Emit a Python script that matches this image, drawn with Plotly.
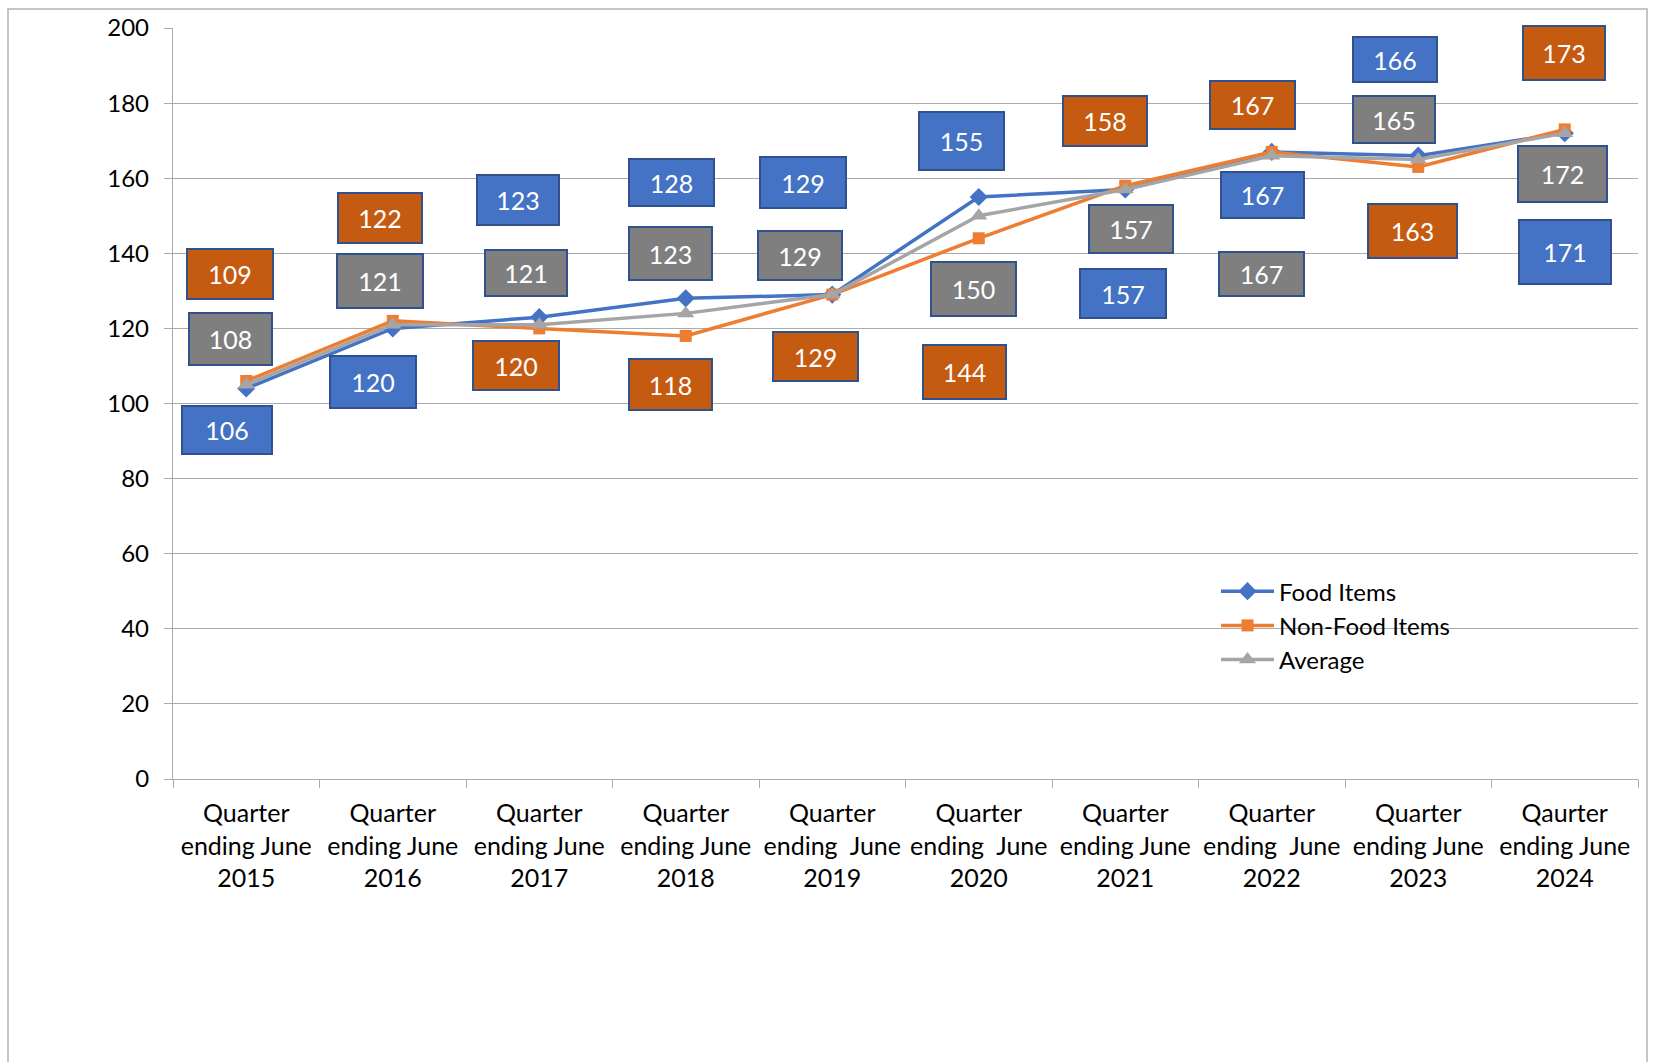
import plotly.graph_objects as go

# ---------------- data ----------------
quarters = [
    "Quarter<br>ending June<br>2015",
    "Quarter<br>ending June<br>2016",
    "Quarter<br>ending June<br>2017",
    "Quarter<br>ending June<br>2018",
    "Quarter<br>ending\u00a0 June<br>2019",
    "Quarter<br>ending\u00a0 June<br>2020",
    "Quarter<br>ending June<br>2021",
    "Quarter<br>ending\u00a0 June<br>2022",
    "Quarter<br>ending June<br>2023",
    "Qaurter<br>ending June<br>2024",
]
food_values = [104, 120, 123, 128, 129, 155, 157, 167, 166, 172]
nonfood_values = [106, 122, 120, 118, 129, 144, 158, 167, 163, 173]
average_values = [105, 121, 121, 124, 129, 150, 157, 166, 165, 172]

food_labels = [106, 120, 123, 128, 129, 155, 157, 167, 166, 171]
nonfood_labels = [109, 122, 120, 118, 129, 144, 158, 167, 163, 173]
average_labels = [108, 121, 121, 123, 129, 150, 157, 167, 165, 172]

series_names = ["Food Items", "Non-Food Items", "Average"]

# ---------------- styles ----------------
FONT = "Lato, Carlito, Calibri, 'Noto Sans', sans-serif"
line_colors = ["#4472C4", "#ED7D31", "#A5A5A5"]
label_fills = ["#4472C4", "#C55A11", "#7F7F7F"]
marker_symbols = ["diamond", "square", "triangle-up"]
marker_sizes = [14, 12, 15]

# label box placement (pixel offsets from the point) and box sizes
food_offsets = [(-19, -42), (-20, -54), (-21, 117), (-14, 116), (-29, 112),
                (-17, 56), (-2, -104), (-9, -43), (-23, 96), (0, -119)]
nonfood_offsets = [(-16, 107), (-13, 103), (-23, -37), (-15, -49), (-17, -62),
                   (-14, -134), (-20, 65), (-19, 47), (-6, -64), (-1, 76)]
average_offsets = [(-16, 46), (-13, 44), (-13, 52), (-15, 60), (-32, 39),
                   (-5, -73), (6, -40), (-10, -118), (-24, 40), (-2, -41)]
food_sizes = [(92, 50), (88, 54), (84, 52), (87, 49), (88, 53),
              (87, 60), (88, 51), (85, 48), (86, 47), (94, 66)]
nonfood_sizes = [(88, 52), (86, 52), (88, 51), (85, 53), (87, 51),
                 (85, 56), (86, 52), (87, 50), (91, 56), (84, 56)]
average_sizes = [(85, 54), (88, 56), (84, 48), (85, 55), (86, 51),
                 (87, 56), (86, 50), (87, 46), (84, 49), (91, 58)]

GRID = "#ABABAB"

fig = go.Figure()
all_values = [food_values, nonfood_values, average_values]
for i, vals in enumerate(all_values):
    fig.add_trace(go.Scatter(
        x=quarters, y=vals, name=series_names[i], mode="lines+markers",
        line=dict(color=line_colors[i], width=3.5),
        marker=dict(symbol=marker_symbols[i], size=marker_sizes[i], color=line_colors[i]),
        legendgroup=series_names[i],
        cliponaxis=False,
    ))

annotations = []
groups = [
    (food_values, food_labels, food_offsets, food_sizes, label_fills[0]),
    (nonfood_values, nonfood_labels, nonfood_offsets, nonfood_sizes, label_fills[1]),
    (average_values, average_labels, average_offsets, average_sizes, label_fills[2]),
]
for vals, labels, offs, sizes, fill in groups:
    for j, q in enumerate(quarters):
        dx, dy = offs[j]
        w, h = sizes[j]
        annotations.append(dict(
            x=q, y=vals[j], xref="x", yref="y", showarrow=False,
            xshift=dx, yshift=dy, text=str(labels[j]),
            font=dict(family=FONT, size=25, color="white"),
            bgcolor=fill, bordercolor="#2F528F", borderwidth=2, borderpad=0,
            width=w - 4, height=h - 4, align="center", valign="middle",
        ))

# outer chart-area frame
PLOT_L, PLOT_R, PLOT_T, PLOT_B = 173, 1638, 24, 779
pw, ph = PLOT_R - PLOT_L, PLOT_B - PLOT_T
def px_x(p):
    return (p - PLOT_L) / pw
def px_y(p):
    return (PLOT_B - p) / ph

shapes = [dict(type="rect", xref="paper", yref="paper",
               x0=px_x(8), x1=px_x(1647), y0=px_y(1100), y1=px_y(5),
               line=dict(color="#B4B4B4", width=1.5), fillcolor="rgba(0,0,0,0)",
               layer="below")]

fig.update_layout(
    width=1656, height=1062,
    margin=dict(l=PLOT_L, r=1656 - PLOT_R, t=PLOT_T, b=1062 - PLOT_B),
    paper_bgcolor="white", plot_bgcolor="white",
    font=dict(family=FONT, size=24, color="black"),
    showlegend=True,
    legend=dict(x=px_x(1216), y=px_y(568), xanchor="left", yanchor="top",
                font=dict(family=FONT, size=24, color="black"),
                bgcolor="rgba(0,0,0,0)", itemwidth=53, tracegroupgap=2,
                traceorder="normal"),
    annotations=annotations,
    shapes=shapes,
)
fig.update_xaxes(
    type="category", range=[-0.5, len(quarters) - 0.5], autorange=False,
    showgrid=False, showline=True, linecolor=GRID, linewidth=1.3,
    ticks="outside", tickson="boundaries", ticklen=8, tickcolor=GRID, tickwidth=1.3,
    tickfont=dict(family=FONT, size=25, color="black"), tickangle=0,
    ticklabelstandoff=12,
)
fig.update_yaxes(
    range=[0, 200], dtick=20, showgrid=True, gridcolor=GRID, gridwidth=1.3,
    showline=True, linecolor=GRID, linewidth=1.3, zeroline=False,
    ticks="outside", ticklen=8, tickcolor=GRID, tickwidth=1.3,
    tickfont=dict(family=FONT, size=24, color="black"), ticklabelstandoff=10,
)

fig.write_html(
    "out.html",
    config={"displayModeBar": False},
    post_script="document.body.style.margin='0';document.body.style.overflow='hidden';",
)
